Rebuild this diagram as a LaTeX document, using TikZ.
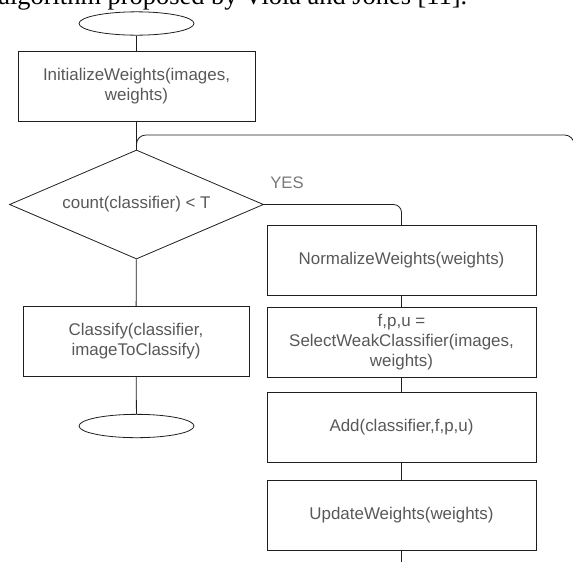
\documentclass[tikz,border=0pt]{standalone}
\usepackage{fontspec}
\setmainfont{Liberation Serif}
\newfontfamily\chartfont{Liberation Sans}
\usetikzlibrary{shapes.geometric}
\definecolor{boxtext}{RGB}{88,88,88}
\definecolor{yestext}{RGB}{120,120,120}
\definecolor{edge}{RGB}{30,30,30}

\begin{document}
\begin{tikzpicture}[
	x=0.75pt, y=-0.75pt, line width=0.6pt,
	link/.style={ draw=edge },
	proc/.style={ rectangle, draw=edge, minimum height=52.5pt, inner sep=0pt, align=center, text=boxtext, font=\chartfont\fontsize{12.7}{15}\selectfont },
	term/.style={ ellipse, draw=edge, minimum width=86.25pt, minimum height=17.5pt, inner sep=0pt },
	decision/.style={ diamond, draw=edge, aspect=2.33, minimum width=190.5pt, minimum height=81.75pt, inner sep=0pt, text=boxtext, font=\chartfont\fontsize{12.7}{15}\selectfont }
]
\useasboundingbox (0,0) rectangle (573,561);
\clip (0,0) rectangle (573,561);

% cut-off line of the surrounding page
\node at (-2,4) (caption) [anchor=base west, inner sep=0pt, font=\fontsize{19.8}{24}\selectfont] {algorithm proposed by Viola and Jones [11].};

\node at (136.5,23.5) (start) [term] {};
\node at (136.5,86.5) (init) [proc, minimum width=177.75pt] {InitializeWeights(images,\\ weights)};
\node at (136.5,204.5) (count) [decision] {count(classifier) < T};
\node at (136,341.5) (classify) [proc, minimum width=169.5pt] {Classify(classifier,\\ imageToClassify)};
\node at (136.5,426) (stop) [term] {};

\node at (401.5,260.5) (normalize) [proc, minimum width=201.75pt] {NormalizeWeights(weights)};
\node at (401.5,342) (select) [proc, minimum width=201.75pt] {f,p,u =\\ SelectWeakClassifier(images,\\ weights)};
\node at (401.5,427) (add) [proc, minimum width=201.75pt] {Add(classifier,f,p,u)};
\node at (401.5,515.5) (update) [proc, minimum width=201.75pt] {UpdateWeights(weights)};
\node at (287,183) (yes) [inner sep=0pt, text=yestext, font=\chartfont\fontsize{12.5}{15}\selectfont] {YES};

\coordinate (loopbot) at (574,590);
\coordinate (looptop) at (574,135);

\draw[link] (start) -- (init);
\draw[link] (init) -- (count);
\draw[link] (count) -- (classify);
\draw[link] (classify) -- (stop);
\draw[link, rounded corners=6pt] (count.east) -| (normalize.north);
\foreach \a/\b in {normalize/select, select/add, add/update} \draw[link] (\a) -- (\b);
\draw[link, rounded corners=7pt] (update.south) |- (loopbot) |- (init.south |- looptop) -- (count.north);

\end{tikzpicture}
\end{document}
